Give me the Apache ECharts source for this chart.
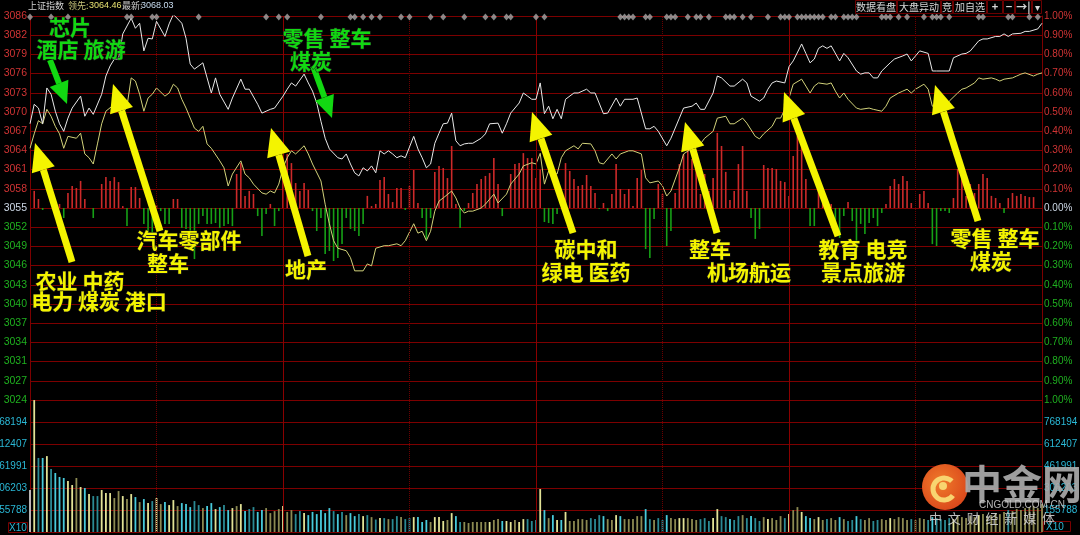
<!DOCTYPE html>
<html><head><meta charset="utf-8">
<script src="https://cdn.jsdelivr.net/npm/echarts@6/dist/echarts.min.js"></script>
<style>html,body{margin:0;padding:0;background:#000;overflow:hidden}#c{width:1080px;height:535px}</style>
</head><body><div id="c"></div><script>
const PREV = 3055.0;
const leftPriceLabels = ['3024','3027','3031','3034','3037','3040','3043','3046','3049','3052','3055','3058','3061','3064','3067','3070','3073','3076','3079','3082','3086'];
const rightPctLabels = ['1.00%','0.90%','0.80%','0.70%','0.60%','0.50%','0.40%','0.30%','0.20%','0.10%','0.00%','0.10%','0.20%','0.30%','0.40%','0.50%','0.60%','0.70%','0.80%','0.90%','1.00%'];
const volLabels = ['','155788','306203','461991','612407','768194',''];
const VOL_STEP = 153.617;

const whiteLine = [[0,3068.4],[1,3071.5],[2,3070.9],[3,3068.4],[4,3074.1],[5,3073.1],[6,3070.4],[7,3068.4],[8,3067.2],[9,3069.3],[10,3070.9],[12,3072.8],[13,3069.6],[14,3070.9],[15,3069.9],[17,3073.1],[18,3076.0],[19,3077.6],[20,3078.7],[21,3078.7],[22,3082.7],[24,3085.2],[25,3083.6],[26,3084.4],[27,3080.0],[28,3082.0],[29,3081.9],[30,3084.7],[32,3082.3],[33,3084.3],[34,3085.8],[36,3084.4],[37,3082.0],[38,3077.9],[39,3077.1],[41,3078.1],[42,3075.7],[43,3073.3],[44,3075.7],[45,3073.1],[47,3070.7],[48,3072.5],[50,3075.5],[51,3073.9],[52,3073.9],[54,3071.5],[55,3070.1],[56,3070.4],[57,3070.7],[58,3070.9],[60,3072.8],
[61,3073.9],[62,3074.9],[63,3074.4],[65,3076.3],[66,3074.9],[67,3073.6],[68,3071.7],[69,3068.8],[70,3066.1],[71,3064.4],[73,3063.0],[74,3062.8],[75,3063.6],[76,3062.0],[77,3060.6],[78,3060.1],[79,3061.4],[80,3060.9],[81,3061.7],[82,3060.6],[83,3064.1],[84,3063.6],[85,3064.1],[86,3063.6],[87,3063.0],[88,3063.3],[89,3063.0],[91,3066.4],[92,3064.4],[93,3063.0],[94,3061.4],[95,3062.0],[96,3065.3],[97,3066.9],[98,3068.4],[99,3068.5],[100,3070.1],[101,3065.7],[102,3064.9],[103,3065.2],[104,3065.3],[105,3065.3],[107,3066.1],[108,3066.8],[109,3068.4],[111,3068.5],[112,3066.9],[113,3068.4],[114,3070.1],[116,3071.7],[117,3073.3],[118,3072.8],[119,3072.3],[120,3072.3],
[121,3074.9],[122,3070.0],[123,3071.2],[124,3069.2],[125,3070.7],[126,3069.2],[127,3072.3],[129,3073.3],[130,3073.3],[132,3073.9],[133,3073.3],[134,3073.3],[136,3070.0],[137,3070.1],[139,3072.5],[140,3071.2],[141,3072.3],[143,3072.3],[144,3072.5],[146,3067.6],[147,3067.6],[148,3068.0],[149,3067.2],[151,3064.9],[152,3066.1],[154,3069.3],[155,3070.9],[157,3071.2],[158,3071.7],[159,3070.7],[160,3070.7],[162,3073.3],[163,3076.0],[164,3075.7],[166,3074.4],[167,3074.4],[169,3075.5],[170,3074.9],[171,3072.8],[173,3072.0],[174,3072.5],[175,3073.9],[176,3074.9],[177,3075.2],[179,3074.9],[180,3077.5],[181,3078.4],
[183,3081.1],[184,3079.6],[185,3078.1],[186,3078.7],[187,3080.4],[188,3080.8],[189,3080.4],[190,3080.8],[192,3078.4],[193,3079.6],[194,3078.9],[196,3076.8],[197,3076.3],[198,3076.5],[199,3076.5],[200,3075.7],[201,3075.7],[202,3076.8],[204,3078.1],[205,3078.7],[207,3079.2],[208,3079.5],[209,3078.4],[210,3079.2],[211,3080.0],[213,3079.6],[214,3076.8],[215,3076.8],[217,3076.8],[218,3076.8],[219,3078.9],[221,3079.5],[222,3079.6],[223,3080.0],[225,3081.6],[226,3081.9],[227,3081.9],[229,3082.3],[230,3082.3],[231,3082.7],[232,3082.3],[233,3082.7],[235,3082.8],[236,3083.1],[237,3083.1],[239,3083.5],[240,3084.4]];

const yellowLine = [[0,3064.5],[1,3066.8],[2,3068.9],[3,3068.4],[4,3070.7],[5,3069.6],[6,3068.0],[7,3066.8],[8,3064.5],[9,3066.4],[11,3066.1],[12,3066.9],[13,3063.6],[14,3063.0],[15,3062.0],[16,3065.2],[17,3068.4],[18,3070.4],[20,3071.5],[21,3070.9],[22,3070.0],[23,3071.2],[24,3075.7],[25,3075.2],[26,3073.1],[27,3070.4],[28,3072.5],[29,3073.1],[30,3074.1],[32,3072.8],[33,3073.3],[34,3074.7],[35,3074.1],[36,3072.3],[37,3070.9],[39,3067.7],[40,3067.2],[41,3068.0],[42,3065.2],[43,3064.5],[45,3062.5],[46,3061.4],[47,3058.5],[48,3060.4],[50,3062.5],[51,3060.4],[52,3059.8],[53,3058.8],[55,3057.4],[56,3057.2],[57,3057.7],[58,3057.4],[59,3058.8],[60,3061.4],[61,3063.0],[62,3064.1],[63,3063.6],[65,3064.9],[66,3063.6],[67,3062.0],[69,3059.3],[70,3055.6],[71,3052.5],[72,3049.8],[73,3048.6],[75,3048.2],[76,3047.1],[77,3045.0],[79,3045.0],[80,3046.1],[81,3045.8],[82,3048.6],[84,3049.0],[85,3049.0],[87,3049.3],[88,3049.0],[89,3049.8],[91,3052.5],[92,3051.0],[93,3051.3],[94,3049.8],[95,3051.3],[96,3054.5],[97,3056.1],[98,3056.6],[100,3057.7],[101,3056.6],[102,3055.0],[103,3054.2],[104,3054.5],[105,3054.5],[107,3055.0],[108,3055.6],[109,3056.4],[110,3057.2],[111,3055.8],[113,3057.2],[114,3058.8],[116,3060.4],[117,3061.7],[119,3062.2],[120,3062.0],[121,3063.7],[122,3058.8],[123,3060.9],[124,3060.6],[125,3060.4],[126,3063.0],[127,3064.1],[129,3064.9],[130,3064.4],[131,3065.3],[133,3065.2],[134,3064.1],[135,3062.2],[136,3062.0],[138,3063.6],[139,3062.8],[140,3063.6],[142,3064.1],[143,3064.1],[145,3063.6],[146,3059.8],[147,3059.0],[149,3059.3],[150,3058.5],[151,3056.9],[152,3057.7],[154,3061.4],[155,3063.6],[157,3064.5],[159,3065.2],[160,3066.1],[162,3067.2],[163,3069.3],[165,3069.6],[166,3068.4],[167,3068.4],[169,3069.3],[170,3068.5],[172,3066.4],[173,3066.0],[174,3066.8],[176,3068.0],[177,3069.3],[178,3069.3],[179,3070.7],[180,3072.5],[181,3074.7],[183,3075.5],[184,3074.4],[185,3073.3],[186,3074.4],[187,3074.9],[189,3074.7],[190,3074.9],[191,3073.6],[192,3072.5],[193,3073.3],[194,3072.3],[196,3070.9],[197,3070.7],[199,3070.9],[200,3070.7],[202,3070.4],[203,3071.2],[204,3072.5],[206,3073.3],[207,3073.6],[208,3073.9],[209,3073.3],[210,3073.9],[212,3074.7],[213,3073.9],[214,3071.2],[215,3070.9],[217,3071.2],[218,3072.0],[220,3073.3],[221,3073.9],[222,3074.1],[224,3074.9],[225,3075.7],[226,3075.5],[228,3075.7],[229,3075.5],[230,3075.2],[231,3075.5],[233,3075.7],[234,3076.0],[235,3076.3],[236,3076.5],[238,3076.0],[239,3076.3],[240,3076.5]];

// buy/sell strength bars, in units of 0.1% (positive red, negative green)
const strength = [[1,0.89],[2,0.47],[3,-0.10],[7,0.21],[8,-0.52],[9,0.78],[10,1.15],[11,1.04],[12,1.41],[13,0.47],[15,-0.52],[17,1.25],[18,1.61],[19,1.41],[20,1.61],[21,1.35],[22,0.10],[23,-0.94],[24,1.09],[25,1.09],[26,0.52],[27,-0.83],[28,-1.56],[29,-1.35],[30,0.16],[31,-0.16],[32,-0.83],[33,-0.83],[34,0.47],[35,0.47],[36,-1.04],[37,-1.09],[38,-1.30],[39,-2.66],[40,-0.83],[41,-0.42],[42,-0.83],[43,-0.83],[44,-0.78],[45,-1.04],[46,-0.94],[47,-0.83],[48,-0.94],[49,1.77],[50,2.34],[51,0.63],[52,0.89],[53,0.73],[54,-0.42],[55,-1.46],[56,-0.31],[57,0.21],[58,-0.94],[59,-0.16],[60,2.08],[61,2.81],[62,2.34],[63,1.30],[64,0.89],[65,1.30],[66,0.94],[67,-0.16],[68,-1.20],[69,-0.52],[70,-2.40],[71,-2.24],[72,-2.76],[73,-2.60],[74,-1.88],[75,-0.52],[76,-1.09],[77,-1.20],[78,-1.46],[79,-0.83],[80,0.63],[81,0.10],[82,0.21],[83,1.46],[84,1.61],[85,0.73],[86,0.31],[87,1.04],[88,1.04],[89,-0.10],[90,1.15],[91,1.98],[92,0.26],[93,-0.52],[94,-1.61],[95,-0.52],[96,1.88],[97,2.19],[98,2.08],[99,1.56],[100,3.23],[101,0.21],[102,-1.04],[103,-0.16],[104,0.26],[105,0.78],[106,1.25],[107,1.51],[108,1.67],[109,1.82],[110,2.60],[111,1.25],[112,-0.42],[114,1.77],[115,2.29],[116,2.34],[117,2.86],[118,2.60],[119,2.60],[120,1.56],[121,2.00],[122,-0.73],[123,-0.78],[124,-0.83],[125,-0.31],[127,2.34],[128,1.93],[129,1.51],[130,1.15],[131,1.20],[132,1.72],[133,1.15],[134,0.78],[135,-0.05],[136,0.26],[137,-0.16],[138,0.73],[139,2.29],[140,0.99],[141,0.73],[142,0.99],[143,0.10],[144,1.56],[145,1.98],[146,-2.14],[147,-2.60],[148,-0.57],[149,1.25],[150,0.73],[151,-1.98],[152,-1.20],[153,0.78],[154,2.29],[155,2.81],[156,3.13],[157,2.55],[158,2.08],[159,0.73],[160,1.77],[161,0.89],[162,1.56],[163,3.91],[164,3.23],[165,1.88],[166,0.42],[167,0.89],[168,2.29],[169,3.23],[170,0.89],[171,-0.52],[172,-1.61],[173,-1.09],[174,2.24],[175,2.08],[176,2.08],[177,2.03],[178,1.41],[179,1.35],[180,0.63],[181,2.71],[182,3.75],[183,3.39],[184,1.51],[185,-0.94],[186,-0.94],[187,0.99],[188,0.99],[190,0.21],[191,-0.83],[192,-1.56],[193,-0.42],[194,0.31],[195,-0.68],[196,-2.24],[197,-0.83],[198,-1.35],[199,-0.78],[200,-0.52],[201,-0.94],[202,-0.26],[203,0.21],[204,1.15],[205,1.51],[206,1.25],[207,1.67],[208,1.41],[209,0.26],[211,0.73],[212,0.89],[213,0.26],[214,-1.88],[215,-1.98],[216,-0.16],[217,-0.16],[218,-0.26],[219,0.52],[220,2.03],[221,1.51],[222,0.63],[223,1.25],[224,0.78],[225,1.25],[226,1.77],[227,1.56],[228,0.63],[229,0.52],[230,0.26],[231,-0.26],[232,0.52],[233,0.78],[234,0.63],[235,0.73],[236,0.63],[237,0.57],[238,0.57]];

// per-minute volume (thousands, x10 shares), t = 0..240
const volume = [293,921,517,517,530,440,412,384,377,356,328,377,314,307,265,251,251,293,272,272,237,286,251,230,265,244,209,230,202,216,237,195,209,188,223,181,202,195,174,216,188,167,181,202,160,174,188,153,167,181,195,146,160,174,140,153,167,132,146,160,181,140,153,125,146,132,118,140,125,153,132,167,146,125,140,118,132,111,125,111,118,104,87,97,97,90,90,111,104,90,97,104,104,70,84,70,104,104,77,84,132,111,70,70,63,70,70,70,70,70,84,90,77,77,70,84,70,90,90,77,84,300,153,97,118,84,84,140,77,77,90,90,84,97,90,118,111,90,84,118,111,90,90,90,111,111,160,90,84,97,84,118,97,90,97,97,97,90,84,90,97,77,97,160,111,104,90,84,111,118,97,111,97,77,104,90,97,84,111,97,125,153,174,140,111,97,90,104,84,90,97,84,104,90,77,84,111,90,84,97,77,84,90,84,97,90,104,97,84,90,84,97,90,84,104,97,90,84,97,90,111,104,97,111,104,118,125,111,118,132,125,140,153,146,160,153,167,174,181,167,195];

const eventMarks = [0,5,9,23,24,29,30,40,56,59,61,69,76,77,79,81,83,88,90,95,98,103,108,110,113,114,120,122,140,141,142,143,146,147,151,152,153,156,158,159,161,165,166,167,169,171,175,178,179,180,182,183,184,185,186,187,188,190,191,193,194,195,196,202,203,204,206,208,212,214,215,216,218,225,226,232,233,237,239];

const toPct = p => (p / PREV - 1) * 100;

// colour of volume bars from price direction
const priceAt = [];
{ let k = 0; for (let t = 0; t <= 240; t++) { while (k + 1 < whiteLine.length && whiteLine[k + 1][0] <= t) k++; priceAt.push(whiteLine[k][1]); } }
let lastDir = 1;
const volData = volume.map((v, t) => {
  let col;
  if (t === 0) col = '#c8c8c8';
  else {
    const d = priceAt[t] - priceAt[t - 1];
    if (d !== 0) lastDir = d > 0 ? 1 : -1;
    const strong = Math.abs(d) >= 1.2;
    col = lastDir > 0 ? (strong ? '#e2e296' : '#8c8a52') : (strong ? '#48cadb' : '#2b8a94');
  }
  return { value: [t, v], itemStyle: { color: col } };
});

const chart = echarts.init(document.getElementById('c'), null, { renderer: 'canvas' });
const RED = '#7c0000';
const labelFont = 'Liberation Sans';
const rich = {
  r: { color: '#d03434', fontSize: 10.5, fontFamily: labelFont },
  w: { color: '#cdd8e6', fontSize: 10.5, fontFamily: labelFont },
  g: { color: '#1fb01f', fontSize: 10.5, fontFamily: labelFont },
  c: { color: '#2ab8d6', fontSize: 10, fontFamily: labelFont },
  rp: { color: '#d03434', fontSize: 10, fontFamily: labelFont },
  wp: { color: '#cdd8e6', fontSize: 10, fontFamily: labelFont },
  gp: { color: '#1fb01f', fontSize: 10, fontFamily: labelFont }
};
const idxOf = v => Math.round((v + 1) * 10);
const vlines = () => ({
  symbol: 'none', silent: true, label: { show: false },
  data: [
    { xAxis: 30, lineStyle: { color: '#6a0000', type: 'dotted', width: 1 } },
    { xAxis: 90, lineStyle: { color: '#6a0000', type: 'dotted', width: 1 } },
    { xAxis: 150, lineStyle: { color: '#6a0000', type: 'dotted', width: 1 } },
    { xAxis: 210, lineStyle: { color: '#6a0000', type: 'dotted', width: 1 } },
    { xAxis: 60, lineStyle: { color: '#8a0000', type: 'solid', width: 1 } },
    { xAxis: 120, lineStyle: { color: '#8a0000', type: 'solid', width: 1 } },
    { xAxis: 180, lineStyle: { color: '#8a0000', type: 'solid', width: 1 } }
  ]
});

function arrow(x1, y1, x2, y2, color, w, hl, hw) {
  const dx = x2 - x1, dy = y2 - y1, L = Math.hypot(dx, dy);
  const ux = dx / L, uy = dy / L, px = -uy, py = ux;
  const bx = x2 - ux * hl, by = y2 - uy * hl;
  return [
    { type: 'line', z: 100, shape: { x1: x1, y1: y1, x2: bx, y2: by }, style: { stroke: color, lineWidth: w } },
    { type: 'polygon', z: 100, shape: { points: [[x2, y2], [bx + px * hw, by + py * hw], [bx - px * hw, by - py * hw]] }, style: { fill: color } }
  ];
}
const YEL = '#f4f400', GRN = '#12d812';
const annFont = 'bold 21px "Noto Sans CJK SC"';
function txt(s, x, y, color, font) {
  return { type: 'text', z: 101, style: { text: s, x: x, y: y, fill: color, font: font || annFont, textAlign: 'center', textVerticalAlign: 'middle', stroke: '#222', lineWidth: 1 } };
}
function htxt(s, x, color, font) {
  return { type: 'text', z: 101, style: { text: s, x: x, y: 6, fill: color, font: font || '9px "Noto Sans CJK SC"', textAlign: 'left', textVerticalAlign: 'middle' } };
}
function btn(x1, x2, s, bold) {
  return [
    { type: 'rect', z: 101, shape: { x: x1 + 0.5, y: 0.5, width: x2 - x1 - 1, height: 13 }, style: { fill: '#000', stroke: '#6a0000', lineWidth: 1 } },
    { type: 'text', z: 102, style: { text: s, x: (x1 + x2) / 2, y: 7, fill: '#d8d8d8', font: (bold ? 'bold 11px' : '10px') + ' "Noto Sans CJK SC"', textAlign: 'center', textVerticalAlign: 'middle' } }
  ];
}

const numFont = '9px "Liberation Sans"';
const graphics = [].concat(
  [htxt('上证指数', 28, '#d0d0d0'), htxt('领先:', 68, '#c8c47a'), htxt('3064.46', 89, '#e6e070', numFont), htxt('最新:', 122, '#d0d0d0'), htxt('3068.03', 141, '#c8dcf0', numFont)],
  btn(855, 897, '数据看盘'), btn(897, 941, '大盘异动'), btn(941, 953, '竞'), btn(953, 987, '加自选'),
  btn(987, 1003, '+', true), btn(1003, 1015, '−', true), btn(1015, 1032, '→|', true), btn(1032, 1042, '▾'),
  arrow(50, 60, 67, 104, GRN, 6, 22, 10),
  arrow(313, 66, 332, 118, GRN, 6, 22, 10),
  arrow(72, 262, 35, 143, YEL, 7, 28, 12),
  arrow(160, 231, 113, 84, YEL, 7, 28, 12),
  arrow(308, 256, 271, 128, YEL, 7, 28, 12),
  arrow(573, 233, 532, 112, YEL, 7, 28, 12),
  arrow(717, 233, 685, 122, YEL, 7, 28, 12),
  arrow(838, 236, 784, 92, YEL, 7, 28, 12),
  arrow(978, 221, 935, 85, YEL, 7, 28, 12),
  [
    txt('芯片', 70, 27, GRN), txt('酒店 旅游', 81, 49, GRN),
    txt('零售 整车', 327, 38, GRN), txt('煤炭', 311, 61, GRN),
    txt('农业 中药', 80, 281, YEL), txt('电力 煤炭 港口', 99, 301, YEL),
    txt('汽车零部件', 189, 240, YEL), txt('整车', 168, 263, YEL),
    txt('地产', 306, 269, YEL),
    txt('碳中和', 586, 249, YEL), txt('绿电 医药', 586, 272, YEL),
    txt('整车', 710, 249, YEL), txt('机场航运', 749, 272, YEL),
    txt('教育 电竞', 863, 249, YEL), txt('景点旅游', 863, 272, YEL),
    txt('零售 整车', 995, 238, YEL), txt('煤炭', 991, 261, YEL)
  ],
  [
    { type: 'rect', z: 101, shape: { x: 8.5, y: 522.5, width: 19, height: 10 }, style: { fill: '#000', stroke: '#7a0000', lineWidth: 1 } },
    { type: 'text', z: 102, style: { text: 'X10', x: 18, y: 528, fill: '#2ab8d6', font: '10px "Liberation Sans"', textAlign: 'center', textVerticalAlign: 'middle' } },
    { type: 'rect', z: 101, shape: { x: 1043.5, y: 521.5, width: 27, height: 10 }, style: { fill: '#000', stroke: '#7a0000', lineWidth: 1 } },
    { type: 'text', z: 102, style: { text: 'X10', x: 1046, y: 527, fill: '#2ab8d6', font: '10px "Liberation Sans"', textAlign: 'left', textVerticalAlign: 'middle' } }
  ],
  [
    { type: 'circle', z: 110, shape: { cx: 945, cy: 487, r: 23 }, style: { fill: new echarts.graphic.RadialGradient(0.4, 0.4, 0.7, [{ offset: 0, color: '#f07a2a' }, { offset: 1, color: '#d8441a' }]) } },
    { type: 'arc', z: 111, shape: { cx: 944, cy: 489, r: 11, startAngle: Math.PI * 0.2, endAngle: Math.PI * 1.75 }, style: { stroke: '#f8d470', lineWidth: 5, fill: null } },
    { type: 'circle', z: 111, shape: { cx: 943, cy: 486, r: 4 }, style: { fill: '#f8d470' } },
    { type: 'text', z: 110, style: { text: '中金网', x: 1022, y: 484, fill: 'rgba(170,170,170,0.92)', font: 'bold 40px "Noto Sans CJK SC"', textAlign: 'center', textVerticalAlign: 'middle' } },
    { type: 'text', z: 110, style: { text: 'CNGOLD.COM.CN', x: 1022, y: 505, fill: 'rgba(200,200,200,0.9)', font: '10px "Liberation Sans"', textAlign: 'center', textVerticalAlign: 'middle' } },
    { type: 'text', z: 110, style: { text: '中  文  财  经  新  媒  体', x: 992, y: 518, fill: 'rgba(210,210,210,0.9)', font: '13px "Noto Sans CJK SC"', textAlign: 'center', textVerticalAlign: 'middle' } }
  ]
);

chart.setOption({
  backgroundColor: '#000',
  animation: false,
  grid: [
    { left: 30, top: 16, width: 1012, height: 384, containLabel: false, outerBoundsMode: 'none' },
    { left: 30, top: 400, width: 1012, height: 132, containLabel: false, outerBoundsMode: 'none' }
  ],
  xAxis: [
    { type: 'value', gridIndex: 0, min: 0, max: 240, show: false },
    { type: 'value', gridIndex: 1, min: 0, max: 240, show: false }
  ],
  yAxis: [
    { type: 'value', gridIndex: 0, position: 'left', min: -1, max: 1, interval: 0.1,
      axisLine: { show: true, lineStyle: { color: RED } }, axisTick: { show: false },
      splitLine: { show: true, lineStyle: { color: RED, width: 1 } },
      axisLabel: { margin: 3, showMinLabel: true, showMaxLabel: true, rich: rich,
        formatter: v => { const i = idxOf(v); const k = i > 10 ? 'r' : (i === 10 ? 'w' : 'g'); return '{' + k + '|' + leftPriceLabels[i] + '}'; } } },
    { type: 'value', gridIndex: 0, position: 'right', min: -1, max: 1, interval: 0.1,
      axisLine: { show: true, lineStyle: { color: RED } }, axisTick: { show: false }, splitLine: { show: false },
      axisLabel: { margin: 2, showMinLabel: true, showMaxLabel: true, rich: rich,
        formatter: v => { const i = idxOf(v); const k = i > 10 ? 'rp' : (i === 10 ? 'wp' : 'gp'); return '{' + k + '|' + rightPctLabels[20 - i] + '}'; } } },
    { type: 'value', gridIndex: 1, position: 'left', min: 0, max: VOL_STEP * 6, interval: VOL_STEP,
      axisLine: { show: true, lineStyle: { color: RED } }, axisTick: { show: false },
      splitLine: { show: true, lineStyle: { color: RED, width: 1 } },
      axisLabel: { margin: 3, rich: rich, formatter: v => { const s = volLabels[Math.round(v / VOL_STEP)]; return s ? '{c|' + s + '}' : ''; } } },
    { type: 'value', gridIndex: 1, position: 'right', min: 0, max: VOL_STEP * 6, interval: VOL_STEP,
      axisLine: { show: true, lineStyle: { color: RED } }, axisTick: { show: false }, splitLine: { show: false },
      axisLabel: { margin: 2, rich: rich, formatter: v => { const s = volLabels[Math.round(v / VOL_STEP)]; return s ? '{c|' + s + '}' : ''; } } }
  ],
  series: [
    { type: 'bar', xAxisIndex: 0, yAxisIndex: 0, barWidth: 1.6, z: 2,
      data: strength.map(([t, v]) => ({ value: [t, v * 0.1], itemStyle: { color: v >= 0 ? '#cc2a2a' : '#16a016' } })),
      markLine: vlines() },
    { type: 'line', xAxisIndex: 0, yAxisIndex: 0, z: 4, symbol: 'none', silent: true,
      lineStyle: { color: '#d2d27a', width: 1 }, data: yellowLine.map(([t, p]) => [t, toPct(p)]) },
    { type: 'line', xAxisIndex: 0, yAxisIndex: 0, z: 5, symbol: 'none', silent: true,
      lineStyle: { color: '#e8e8e8', width: 1 }, data: whiteLine.map(([t, p]) => [t, toPct(p)]) },
    { type: 'scatter', xAxisIndex: 0, yAxisIndex: 0, z: 6, symbol: 'diamond', symbolSize: [6, 7], clip: false,
      itemStyle: { color: '#a8a8a8' }, data: eventMarks.map(t => [t, 0.995]) },
    { type: 'bar', xAxisIndex: 1, yAxisIndex: 2, barWidth: 1.8, z: 2, data: volData, markLine: vlines() }
  ],
  graphic: { elements: graphics }
});
</script></body></html>
